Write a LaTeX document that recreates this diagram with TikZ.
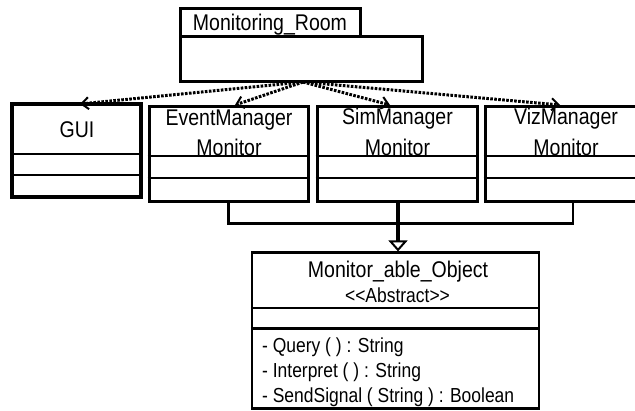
\documentclass[tikz,border=0pt]{standalone}
\usepackage{fontspec}
\setmainfont{Liberation Sans}[FakeStretch=0.86]
\usetikzlibrary{arrows.meta}
\begin{document}
\begin{tikzpicture}[x=1pt,y=-1pt,
  box/.style={draw=black, line width=3pt, inner sep=0pt, rectangle},
  thinbox/.style={draw=black, line width=2.2pt, inner sep=0pt, rectangle},
  sep/.style={line width=2.6pt},
  title/.style={font=\fontsize{22.7}{24}\selectfont, anchor=base, inner sep=0pt},
  small/.style={font=\fontsize{20.3}{22}\selectfont, anchor=base, inner sep=0pt},
  member/.style={font=\fontsize{20.3}{22}\selectfont, anchor=base west, inner sep=0pt},
  uses/.style={line width=3pt, dash pattern=on 2.6pt off 1.4pt,
    -{Straight Barb[length=7pt,width=12pt,line width=2pt]}},
  inherit/.style={line width=2.5pt},
  mainlink/.style={line width=4pt,
    -{Triangle[open,length=11pt,width=19pt,line width=2pt]}}
]
\clip (0,0) rectangle (635,410);
\fill[white] (0,0) rectangle (635,410);

% Monitoring_Room: name tab and body
\node[box, minimum width=180pt, minimum height=28pt] (mrtab) at (270,22) {};
\node[box, minimum width=242pt, minimum height=45pt] (mrbody) at (301,58.5) {};
\node[title] (mrname) at (270,30) {Monitoring\_Room};

% GUI
\node[box, line width=3.5pt, minimum width=129pt, minimum height=93pt] (gui) at (76.5,150.5) {};
\draw[sep] (gui.west |- 0,154) -- (gui.east |- 0,154);
\draw[sep] (gui.west |- 0,175) -- (gui.east |- 0,175);
\node[title] (guiname) at (77,137) {GUI};

% EventManager Monitor
\node[box, minimum width=159pt, minimum height=95pt] (evt) at (228.5,153.5) {};
\draw[sep] (evt.west |- 0,156) -- (evt.east |- 0,156);
\draw[sep] (evt.west |- 0,178) -- (evt.east |- 0,178);
\node[title] (evtname) at (229,125) {EventManager};
\node[title] (evtname2) at (229,155) {Monitor};

% SimManager Monitor
\node[box, minimum width=160pt, minimum height=95pt] (sim) at (397,153.5) {};
\draw[sep] (sim.west |- 0,156) -- (sim.east |- 0,156);
\draw[sep] (sim.west |- 0,178) -- (sim.east |- 0,178);
\node[title] (simname) at (397.5,124) {SimManager};
\node[title] (simname2) at (397.5,155) {Monitor};

% VizManager Monitor
\node[box, minimum width=176pt, minimum height=95pt] (viz) at (573,153.5) {};
\draw[sep] (viz.west |- 0,156) -- (viz.east |- 0,156);
\draw[sep] (viz.west |- 0,178) -- (viz.east |- 0,178);
\node[title] (vizname) at (566,124) {VizManager};
\node[title] (vizname2) at (566,155) {Monitor};

% Monitor_able_Object
\node[thinbox, minimum width=287pt, minimum height=156pt] (mao) at (395.5,330.5) {};
\draw[sep] (mao.west |- 0,308) -- (mao.east |- 0,308);
\draw[sep] (mao.west |- 0,328.5) -- (mao.east |- 0,328.5);
\node[title] (maoname) at (398,277) {Monitor\_able\_Object};
% separate boxes keep the angle brackets from turning into guillemets
\node[small] (maostereo) at (397.5,302) {\hbox{<}\hbox{<}Abstract\hbox{>}\hbox{>}};
\node[member] (m1) at (262,352) {- Query ( ) : String};
\node[member] (m2) at (262,377) {- Interpret ( ) : String};
\node[member] (m3) at (262,402) {- SendSignal ( String ) : Boolean};

% dependency arrows out of Monitoring_Room
\coordinate (src) at (303,82);
\coordinate (tgui) at (80,104);
\coordinate (tevt) at (235,105);
\coordinate (tsim) at (390,105);
\coordinate (tviz) at (560,105);
\draw[uses] (src) -- (tgui);
\draw[uses] (src) -- (tevt);
\draw[uses] (src) -- (tsim);
\draw[uses] (src) -- (tviz);

% generalisation to Monitor_able_Object
\draw[inherit] (evt.south) -- ++(0,21) -| (viz.south);
\coordinate (simfoot) at (398,201);
\draw[mainlink] (simfoot) -- (simfoot |- mao.north);
\end{tikzpicture}
\end{document}
